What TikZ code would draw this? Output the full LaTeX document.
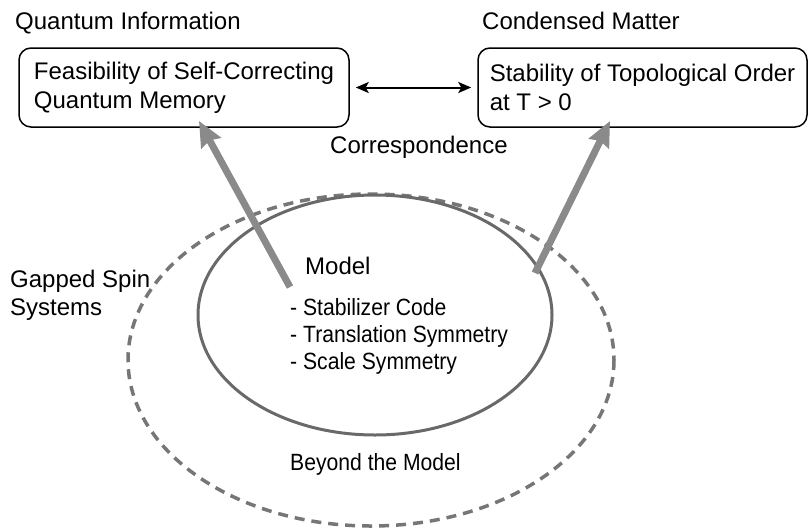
\documentclass[tikz,border=0pt]{standalone}
\usepackage{fontspec}
\setmainfont{Liberation Sans}
\newfontfamily\condfont[FakeStretch=0.9]{Liberation Sans}
\usetikzlibrary{arrows.meta}
\definecolor{ellgray}{RGB}{105,105,105}
\definecolor{dashgray}{RGB}{118,118,118}
\definecolor{arrgray}{RGB}{138,138,138}
\begin{document}
\begin{tikzpicture}[x=1pt,y=-1pt,
  txt/.style={font=\fontsize{24}{29}\selectfont, inner sep=0pt, anchor=base west},
  condtxt/.style={font=\condfont\fontsize{23.5}{27}\selectfont, inner sep=0pt, anchor=base west},
  box/.style={draw, line width=1.5pt, rounded corners=12pt, minimum height=79pt,
              align=left, font=\fontsize{24}{29}\selectfont, inner sep=0pt},
  grayarrow/.style={line width=7pt, draw=arrgray, fill=arrgray,
              -{Stealth[length=25pt,width=22pt,inset=3pt]}},
  corrarrow/.style={line width=2pt, {Stealth[length=13pt,width=11pt,inset=3pt]}-{Stealth[length=13pt,width=11pt,inset=3pt]},
              shorten <=6pt, shorten >=6pt},
  modelell/.style={draw=ellgray, line width=3pt},
  beyondell/.style={draw=dashgray, line width=3.5pt, dash pattern=on 10pt off 7pt}
]
\useasboundingbox (0,0) rectangle (809,528);

% ellipses
\draw[beyondell] (371,360) ellipse [x radius=243, y radius=166];
\draw[modelell] (375,315) ellipse [x radius=177, y radius=120];

% titles
\node[txt] (qi) at (15,29) {Quantum Information};
\node[txt] (cm) at (482,29) {Condensed Matter};

% boxes
\node[box, minimum width=330pt] (lbox) at (184,87.5) {Feasibility of Self-Correcting\\Quantum Memory};
\node[box, minimum width=329pt] (rbox) at (642.5,87.5) {Stability of Topological Order\\at T > 0};

\draw[corrarrow] (lbox.east) -- (rbox.west);
\node[txt] (corr) at (330,153) {Correspondence};

% labels
\node[txt] (model) at (305,274) {Model};
\node[condtxt] (l1) at (290,315) {- Stabilizer Code};
\node[condtxt] (l2) at (290,342) {- Translation Symmetry};
\node[condtxt] (l3) at (290,369.5) {- Scale Symmetry};
\node[condtxt] (beyond) at (290,470) {Beyond the Model};
\node[txt] (gss1) at (10,287) {Gapped Spin};
\node[txt] (gss2) at (10,315) {Systems};

% gray arrows
\coordinate (la) at (290,287);
\coordinate (lt) at (199,121);
\coordinate (ra) at (535,273);
\coordinate (rt) at (610,121);
\draw[grayarrow] (la) -- (lt);
\draw[grayarrow] (ra) -- (rt);
\end{tikzpicture}
\end{document}
